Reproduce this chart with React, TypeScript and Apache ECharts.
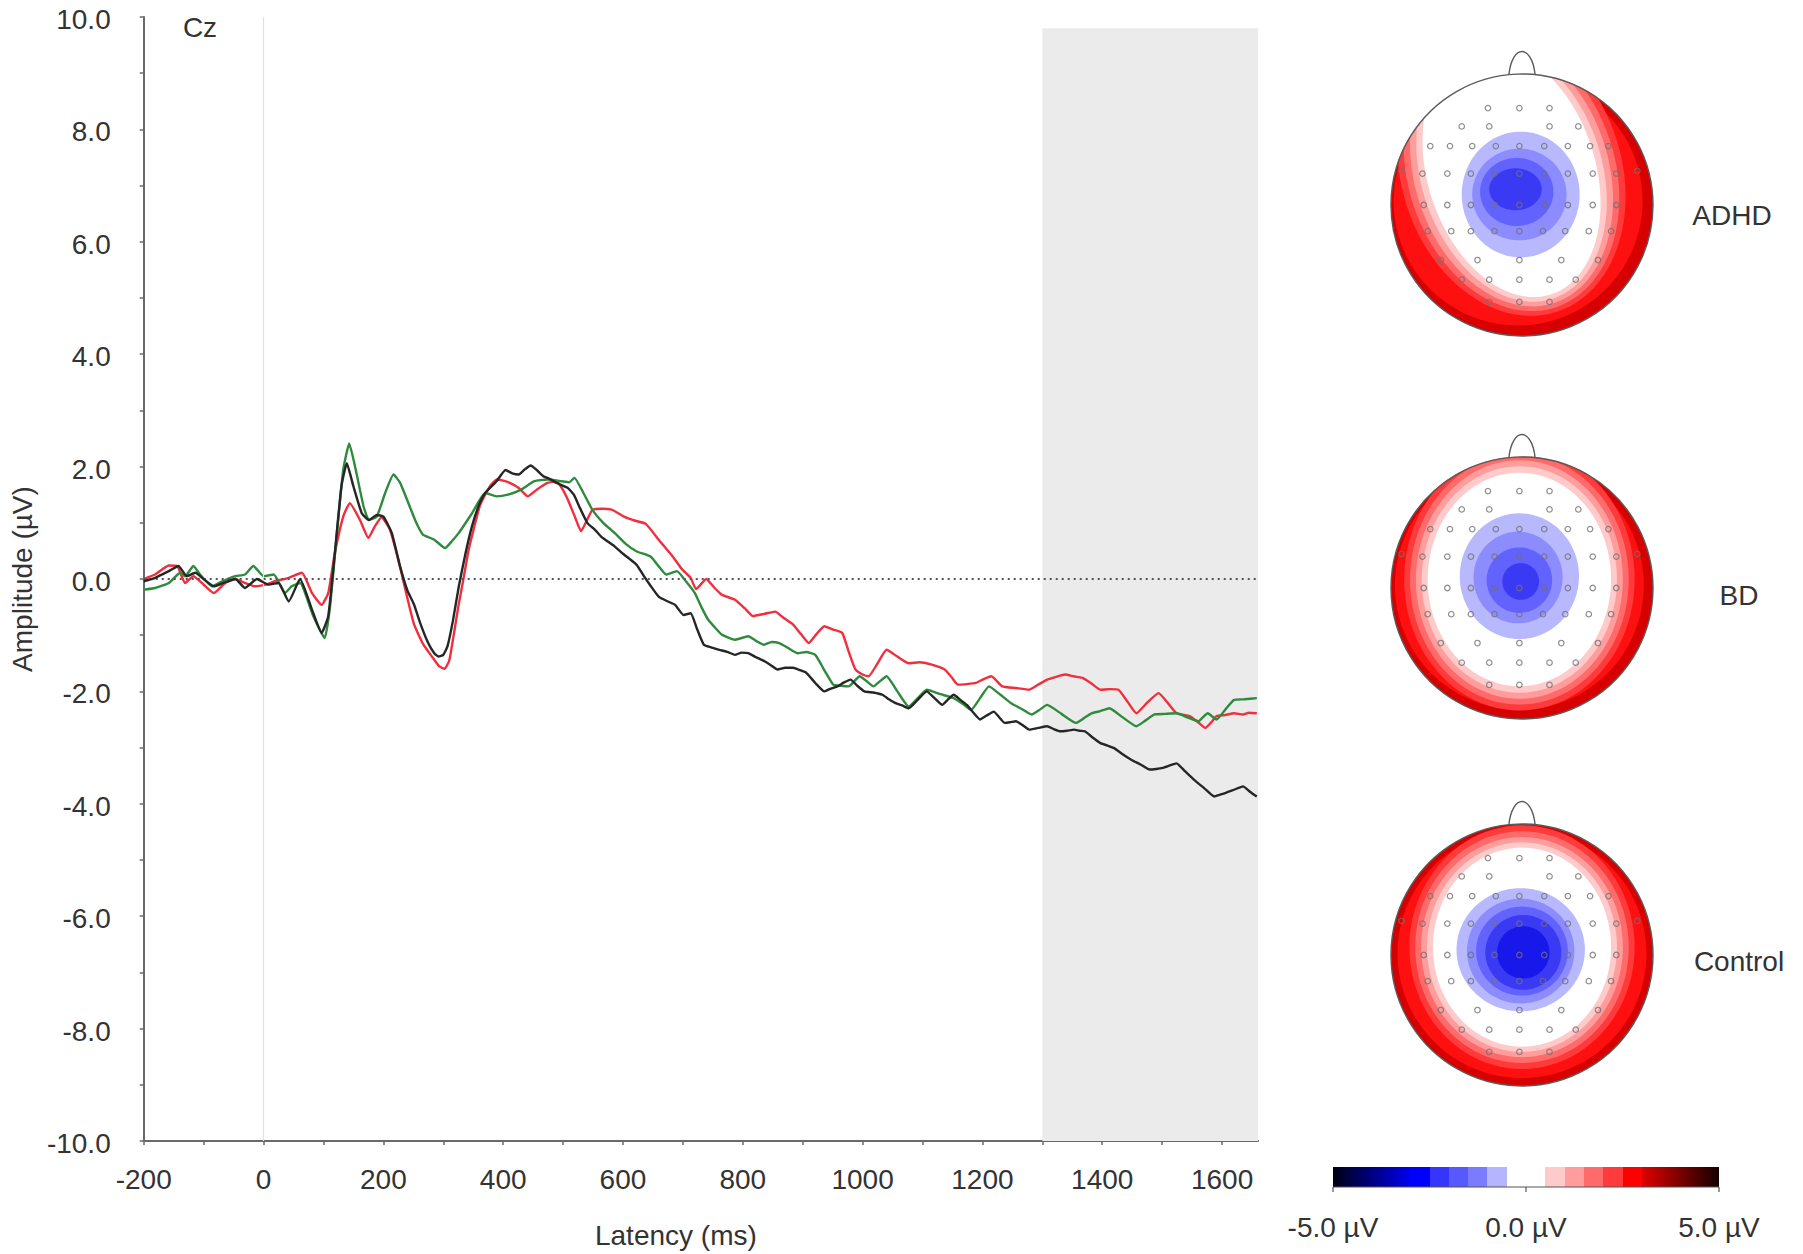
import React, { useEffect, useRef } from 'react';
import * as echarts from 'echarts';

// ---------------- data ----------------
const xLabelValues = [-200, 0, 200, 400, 600, 800, 1000, 1200, 1400, 1600];
const xTickValues = [-200, -100, 0, 100, 200, 300, 400, 500, 600, 700, 800, 900, 1000, 1100, 1200, 1300, 1400, 1500, 1600];
const yLabelValues = [-10, -8, -6, -4, -2, 0, 2, 4, 6, 8, 10];
const yTickValues = [-10, -9, -8, -7, -6, -5, -4, -3, -2, -1, 0, 1, 2, 3, 4, 5, 6, 7, 8, 9, 10];
const shadedWindow = [1300, 1660];
const shadedAmplitudeTop = 9.8;
const latencyRange = [-200, 1660];
const amplitudeRange = [-10, 10];

// [latency ms, amplitude µV]
const blackWave: [number, number][] = [
  [-200, -0.04], [-181, 0.02], [-158, 0.14], [-142, 0.23], [-128, 0.05], [-114, 0.11], [-100, 0.0], [-83, -0.13],
  [-67, -0.07], [-47, 0.0], [-31, -0.16], [-11, 0.0], [8, -0.1], [25, -0.07], [42, -0.4], [61, 0.0], [81, -0.55],
  [97, -0.96], [108, -0.66], [119, 0.46], [130, 1.65], [139, 2.06], [150, 1.65], [164, 1.17], [176, 1.05],
  [189, 1.14], [200, 1.11], [214, 0.82], [228, 0.22], [240, -0.2], [251, -0.45], [262, -0.8], [274, -1.12],
  [285, -1.32], [292, -1.38], [300, -1.35], [307, -1.2], [316, -0.75], [326, -0.13], [337, 0.45], [348, 0.94],
  [359, 1.3], [370, 1.53], [389, 1.74], [404, 1.94], [415, 1.88], [426, 1.86], [436, 1.95], [446, 2.02],
  [457, 1.93], [467, 1.83], [478, 1.78], [489, 1.71], [508, 1.62], [518, 1.5], [527, 1.29], [541, 0.99],
  [553, 0.88], [564, 0.75], [586, 0.58], [600, 0.45], [612, 0.35], [623, 0.25], [635, 0.05], [646, -0.12],
  [660, -0.32], [675, -0.4], [687, -0.46], [701, -0.64], [713, -0.61], [724, -0.9], [735, -1.17], [748, -1.22],
  [761, -1.26], [775, -1.3], [787, -1.35], [798, -1.31], [809, -1.32], [820, -1.38], [832, -1.44], [845, -1.52],
  [858, -1.61], [871, -1.58], [884, -1.58], [895, -1.62], [906, -1.67], [921, -1.85], [936, -2.0], [947, -1.95],
  [958, -1.91], [969, -1.84], [980, -1.79], [991, -1.9], [1003, -2.0], [1018, -2.02], [1033, -2.06], [1044, -2.14],
  [1055, -2.21], [1066, -2.25], [1077, -2.3], [1092, -2.15], [1107, -2.0], [1120, -2.12], [1133, -2.24],
  [1142, -2.15], [1152, -2.06], [1163, -2.15], [1174, -2.24], [1185, -2.38], [1196, -2.5], [1207, -2.43],
  [1219, -2.36], [1228, -2.46], [1237, -2.56], [1246, -2.55], [1256, -2.53], [1267, -2.6], [1278, -2.68],
  [1293, -2.65], [1308, -2.62], [1319, -2.67], [1330, -2.71], [1341, -2.7], [1353, -2.68], [1362, -2.7],
  [1371, -2.71], [1384, -2.82], [1397, -2.92], [1408, -2.96], [1420, -3.01], [1434, -3.12], [1449, -3.22],
  [1464, -3.3], [1479, -3.39], [1490, -3.38], [1501, -3.36], [1512, -3.32], [1524, -3.28], [1538, -3.42],
  [1553, -3.57], [1570, -3.72], [1587, -3.87], [1596, -3.84], [1605, -3.81], [1620, -3.75], [1635, -3.69],
  [1646, -3.78], [1658, -3.87],
];

const redWave: [number, number][] = [
  [-200, 0.0], [-181, 0.08], [-158, 0.24], [-144, 0.23], [-131, -0.07], [-117, 0.05], [-103, -0.07], [-83, -0.25],
  [-64, -0.07], [-47, 0.0], [-31, -0.07], [-14, -0.13], [3, -0.1], [19, -0.04], [42, 0.02], [64, 0.11], [81, -0.25],
  [97, -0.46], [108, -0.25], [119, 0.46], [133, 1.11], [144, 1.35], [161, 1.05], [175, 0.73], [186, 0.94],
  [197, 1.1], [211, 0.88], [225, 0.34], [237, -0.2], [251, -0.8], [266, -1.15], [281, -1.38], [293, -1.55],
  [302, -1.6], [310, -1.45], [318, -0.96], [325, -0.5], [333, -0.04], [342, 0.5], [352, 0.94], [361, 1.3],
  [370, 1.5], [380, 1.68], [389, 1.77], [400, 1.75], [411, 1.71], [426, 1.62], [441, 1.47], [456, 1.59],
  [474, 1.71], [489, 1.74], [499, 1.6], [508, 1.41], [520, 1.1], [530, 0.85], [540, 1.05], [549, 1.23],
  [565, 1.25], [582, 1.23], [600, 1.12], [616, 1.05], [638, 0.98], [661, 0.68], [683, 0.4], [698, 0.18],
  [713, 0.02], [722, -0.18], [739, 0.0], [752, -0.15], [765, -0.28], [787, -0.37], [803, -0.52], [817, -0.66],
  [836, -0.62], [854, -0.58], [869, -0.7], [884, -0.81], [897, -0.98], [910, -1.14], [923, -0.98], [936, -0.84],
  [951, -0.9], [966, -0.96], [977, -1.3], [988, -1.61], [1000, -1.7], [1010, -1.73], [1025, -1.5], [1040, -1.26],
  [1058, -1.38], [1077, -1.5], [1095, -1.48], [1114, -1.52], [1137, -1.61], [1148, -1.74], [1159, -1.88],
  [1174, -1.87], [1189, -1.85], [1202, -1.78], [1215, -1.73], [1233, -1.91], [1256, -1.94], [1278, -1.97],
  [1293, -1.88], [1308, -1.79], [1323, -1.74], [1338, -1.7], [1352, -1.73], [1367, -1.76], [1382, -1.86],
  [1397, -1.97], [1412, -1.96], [1427, -1.97], [1442, -2.18], [1457, -2.39], [1475, -2.2], [1494, -2.03],
  [1509, -2.2], [1524, -2.39], [1546, -2.44], [1560, -2.55], [1572, -2.65], [1582, -2.55], [1591, -2.44],
  [1605, -2.42], [1620, -2.39], [1635, -2.41], [1645, -2.38], [1658, -2.39],
];

const greenWave: [number, number][] = [
  [-200, -0.19], [-181, -0.16], [-158, -0.07], [-139, 0.11], [-131, 0.05], [-117, 0.23], [-106, 0.08],
  [-86, -0.13], [-69, -0.04], [-47, 0.05], [-31, 0.08], [-17, 0.23], [0, 0.05], [17, 0.08], [36, -0.25],
  [47, -0.13], [61, -0.07], [83, -0.66], [102, -1.05], [111, -0.49], [122, 0.76], [133, 1.94], [143, 2.41],
  [154, 1.94], [167, 1.29], [176, 1.05], [189, 1.11], [203, 1.53], [217, 1.86], [228, 1.71], [244, 1.29],
  [255, 1.0], [266, 0.79], [285, 0.7], [303, 0.55], [315, 0.68], [326, 0.82], [348, 1.17], [370, 1.53],
  [389, 1.47], [408, 1.5], [430, 1.59], [452, 1.74], [474, 1.77], [497, 1.74], [510, 1.72], [519, 1.8],
  [534, 1.53], [549, 1.23], [567, 1.0], [586, 0.82], [605, 0.62], [623, 0.49], [646, 0.4], [660, 0.22],
  [672, 0.08], [690, 0.14], [705, -0.04], [720, -0.25], [731, -0.5], [742, -0.72], [755, -0.88], [765, -0.99],
  [787, -1.08], [809, -1.02], [822, -1.1], [835, -1.17], [848, -1.12], [861, -1.14], [876, -1.23], [891, -1.32],
  [906, -1.3], [921, -1.35], [936, -1.62], [951, -1.88], [964, -1.9], [977, -1.91], [986, -1.82], [995, -1.73],
  [1007, -1.82], [1018, -1.91], [1029, -1.82], [1040, -1.73], [1058, -2.0], [1077, -2.27], [1092, -2.12],
  [1107, -1.97], [1130, -2.05], [1152, -2.12], [1167, -2.22], [1181, -2.33], [1196, -2.12], [1211, -1.91],
  [1230, -2.06], [1248, -2.21], [1265, -2.31], [1282, -2.41], [1295, -2.33], [1308, -2.24], [1332, -2.4],
  [1356, -2.56], [1369, -2.48], [1382, -2.39], [1397, -2.35], [1412, -2.3], [1434, -2.46], [1457, -2.62],
  [1472, -2.52], [1487, -2.41], [1505, -2.4], [1524, -2.39], [1542, -2.46], [1561, -2.53], [1568, -2.46],
  [1576, -2.39], [1591, -2.5], [1605, -2.33], [1620, -2.15], [1637, -2.14], [1658, -2.12],
];

const groupNames = ['ADHD', 'BD', 'Control'];

const topoLevels: Record<string, string> = {
  r5: '#d60000', r4: '#ff1010', r3: '#ff3a3a', r2: '#ff6a6a', r1: '#ff9d9d', r0: '#ffcaca',
  w: '#ffffff', b1: '#b8b8ff', b2: '#8c8cff', b3: '#6262ff', b4: '#3a3af5', b5: '#1818ea',
};

// [level, centre u, centre v, radius u, radius v, rotation deg] in head units (head radius = 1)
type Band = [string, number, number, number, number, number];
const adhdBands: Band[] = [
  ['r5', 0, 0, 1.0, 1.0, 0],
  ['r4', -0.03, 0.03, 0.95, 0.95, 0],
  ['r3', -0.08, 0.25, 0.84, 1.12, 18],
  ['r2', -0.08, 0.25, 0.79, 1.085, 18],
  ['r1', -0.08, 0.25, 0.74, 1.05, 18],
  ['r0', -0.08, 0.25, 0.69, 1.015, 18],
  ['w', -0.08, 0.25, 0.64, 0.98, 18],
  ['b1', -0.01, 0.08, 0.45, 0.48, 0],
  ['b2', -0.02, 0.08, 0.36, 0.35, 0],
  ['b3', -0.04, 0.1, 0.28, 0.26, 0],
  ['b4', -0.05, 0.12, 0.2, 0.16, 0],
];
const bdBands: Band[] = [
  ['r5', 0, 0, 1.0, 1.0, 0],
  ['r4', -0.02, 0.02, 0.95, 0.95, 0],
  ['r3', -0.02, 0.065, 0.88, 1.0, 0],
  ['r2', -0.02, 0.065, 0.835, 0.955, 0],
  ['r1', -0.02, 0.065, 0.79, 0.91, 0],
  ['r0', -0.02, 0.065, 0.745, 0.865, 0],
  ['w', -0.02, 0.065, 0.7, 0.815, 0],
  ['b1', -0.02, 0.09, 0.455, 0.48, 0],
  ['b2', -0.03, 0.08, 0.34, 0.35, 0],
  ['b3', -0.02, 0.06, 0.25, 0.25, 0],
  ['b4', -0.01, 0.05, 0.14, 0.14, 0],
];
const controlBands: Band[] = [
  ['r5', 0, 0, 1.0, 1.0, 0],
  ['r4', 0, 0.01, 0.95, 0.95, 0],
  ['r3', 0, 0.06, 0.86, 0.93, 0],
  ['r2', 0, 0.06, 0.815, 0.885, 0],
  ['r1', 0, 0.06, 0.77, 0.84, 0],
  ['r0', 0, 0.06, 0.725, 0.8, 0],
  ['w', 0, 0.06, 0.68, 0.76, 0],
  ['b1', -0.01, 0.04, 0.49, 0.47, 0],
  ['b2', -0.01, 0.03, 0.41, 0.4, 0],
  ['b3', 0, 0.03, 0.35, 0.34, 0],
  ['b4', 0.01, 0.02, 0.29, 0.285, 0],
  ['b5', 0.01, 0.02, 0.2, 0.2, 0],
];
const headBands = [adhdBands, bdBands, controlBands];

// electrode positions in head units
const electrodes: [number, number][] = [
  [-0.26, 0.74], [-0.02, 0.74], [0.21, 0.74],
  [-0.46, 0.6], [-0.25, 0.6], [0.21, 0.6], [0.43, 0.6],
  [-0.7, 0.45], [-0.55, 0.45], [-0.38, 0.45], [-0.2, 0.45], [-0.02, 0.45], [0.17, 0.45], [0.35, 0.45], [0.52, 0.45], [0.66, 0.45],
  [-0.92, 0.26], [-0.76, 0.24], [-0.57, 0.24], [-0.39, 0.24], [-0.21, 0.24], [-0.02, 0.24], [0.17, 0.24], [0.35, 0.24], [0.54, 0.24], [0.72, 0.24], [0.88, 0.26],
  [-0.75, 0.0], [-0.57, 0.0], [-0.39, 0.0], [-0.21, 0.0], [-0.02, 0.0], [0.17, 0.0], [0.35, 0.0], [0.54, 0.0], [0.72, 0.0],
  [-0.72, -0.2], [-0.54, -0.2], [-0.39, -0.2], [-0.21, -0.2], [-0.02, -0.2], [0.16, -0.2], [0.33, -0.2], [0.51, -0.2], [0.68, -0.2],
  [-0.62, -0.42], [-0.34, -0.42], [-0.02, -0.42], [0.3, -0.42], [0.58, -0.42],
  [-0.46, -0.57], [-0.25, -0.57], [-0.02, -0.57], [0.21, -0.57], [0.41, -0.57],
  [-0.25, -0.74], [-0.02, -0.74], [0.21, -0.74],
];

// colour bar: [from µV, to µV, colour at start, colour at end]
const colorbarSegments: [number, number, string, string][] = [
  [-5.0, -3.0, '#000014', '#0000ee'],
  [-3.0, -2.5, '#0000ff', '#0000ff'],
  [-2.5, -2.0, '#3535ff', '#3535ff'],
  [-2.0, -1.5, '#5858ff', '#5858ff'],
  [-1.5, -1.0, '#7b7bff', '#7b7bff'],
  [-1.0, -0.5, '#b4b4ff', '#b4b4ff'],
  [-0.5, 0.5, '#ffffff', '#ffffff'],
  [0.5, 1.0, '#ffcaca', '#ffcaca'],
  [1.0, 1.5, '#ff9d9d', '#ff9d9d'],
  [1.5, 2.0, '#ff6a6a', '#ff6a6a'],
  [2.0, 2.5, '#ff3a3a', '#ff3a3a'],
  [2.5, 3.0, '#ff0000', '#ff0000'],
  [3.0, 5.0, '#e00000', '#140000'],
];
const colorbarLabels: [number, string][] = [[-5, '-5.0 µV'], [0, '0.0 µV'], [5, '5.0 µV']];

// ---------------- layout ----------------
const FONT = '"Liberation Sans", Arial, Helvetica, sans-serif';
const TEXT = '#333333';
const FS = 28;
const PLOT = { left: 142, top: 17, width: 1116, height: 1124 };
const HEAD_CX = 1522;
const HEAD_R = 131;
const HEAD_CY = [205, 588, 955];
const HEAD_LABEL_POS: [number, number][] = [[1732, 215], [1739, 595], [1739, 961]];
const HEAD_SPAN = 1.2;
const CB = { x: 1333, y: 1167, width: 386, height: 20 };

function bandRender(params: any, api: any) {
  const cx = api.value(0);
  const cy = api.value(1);
  const rx = api.value(2);
  const ry = api.value(3);
  const th = (api.value(4) * Math.PI) / 180;
  const pts: number[][] = [];
  for (let k = 0; k < 96; k++) {
    const t = (2 * Math.PI * k) / 96;
    const px = rx * Math.cos(t);
    const py = ry * Math.sin(t);
    pts.push(api.coord([cx + px * Math.cos(th) - py * Math.sin(th), cy + px * Math.sin(th) + py * Math.cos(th)]));
  }
  return { type: 'polygon', shape: { points: pts }, style: { fill: api.visual('color'), stroke: null } };
}

function outlineRender(params: any, api: any) {
  const c = api.coord([0, 0]);
  const r = api.size([1, 1])[0];
  const nl = api.coord([-0.1, 0.995]);
  const nr = api.coord([0.1, 0.995]);
  const c1 = api.coord([-0.075, 1.23]);
  const c2 = api.coord([0.075, 1.23]);
  return {
    type: 'group',
    children: [
      { type: 'ring', shape: { cx: c[0], cy: c[1], r0: r + 0.6, r: r * 1.5 }, style: { fill: '#ffffff' } },
      { type: 'circle', shape: { cx: c[0], cy: c[1], r }, style: { fill: 'none', stroke: '#5a5a5a', lineWidth: 1.4 } },
      {
        type: 'bezierCurve',
        shape: { x1: nl[0], y1: nl[1], x2: nr[0], y2: nr[1], cpx1: c1[0], cpy1: c1[1], cpx2: c2[0], cpy2: c2[1] },
        style: { fill: 'none', stroke: '#5a5a5a', lineWidth: 1.4 },
      },
    ],
  };
}

function textStyle(text: string) {
  return {
    text, fontSize: FS, fontFamily: FONT, fill: TEXT,
    textAlign: 'center', textVerticalAlign: 'middle', align: 'center', verticalAlign: 'middle',
  };
}

function buildOption() {
  const grids: any[] = [{ ...PLOT }];
  const xAxes: any[] = [
    {
      type: 'value', gridIndex: 0, min: latencyRange[0], max: latencyRange[1],
      axisLine: { show: true, onZero: false, lineStyle: { color: '#6a6a6a', width: 2 } },
      axisTick: { show: true, customValues: xTickValues, length: 4, lineStyle: { color: '#6a6a6a', width: 1.5 } },
      axisLabel: {
        customValues: xLabelValues, margin: 24, fontSize: FS, color: TEXT, fontFamily: FONT,
        formatter: (v: number) => String(v),
      },
      splitLine: { show: false },
      name: 'Latency (ms)', nameLocation: 'middle', nameGap: 80,
      nameTextStyle: { fontSize: FS, color: TEXT, fontFamily: FONT, padding: [0, 50, 0, 0] },
    },
  ];
  const yAxes: any[] = [
    {
      type: 'value', gridIndex: 0, min: amplitudeRange[0], max: amplitudeRange[1],
      axisLine: { show: true, onZero: false, lineStyle: { color: '#6a6a6a', width: 2 } },
      axisTick: { show: true, customValues: yTickValues, length: 4, lineStyle: { color: '#6a6a6a', width: 1.5 } },
      axisLabel: {
        customValues: yLabelValues, margin: 33, fontSize: FS, color: TEXT, fontFamily: FONT,
        formatter: (v: number) => v.toFixed(1), verticalAlign: 'top', lineHeight: 5,
      },
      splitLine: { show: false },
      name: 'Amplitude (µV)', nameLocation: 'middle', nameGap: 95, nameRotate: 90,
      nameTextStyle: { fontSize: FS, color: TEXT, fontFamily: FONT },
    },
  ];

  const series: any[] = [
    {
      type: 'line', xAxisIndex: 0, yAxisIndex: 0, data: [[latencyRange[0], 0]], silent: true, z: 1,
      showSymbol: false, lineStyle: { width: 0 },
      markArea: {
        silent: true, itemStyle: { color: '#ebebeb' },
        data: [[{ xAxis: shadedWindow[0], yAxis: amplitudeRange[0] }, { xAxis: shadedWindow[1], yAxis: shadedAmplitudeTop }]],
      },
      markLine: {
        silent: true, symbol: ['none', 'none'], label: { show: false }, animation: false,
        data: [
          { xAxis: 0, lineStyle: { color: '#e2e2e2', width: 1.2, type: 'solid' } },
          { yAxis: 0, lineStyle: { color: '#555555', width: 2, type: [2, 4] } },
        ],
      },
    },
    { type: 'line', name: 'red', data: redWave, showSymbol: false, smooth: 0.15, z: 3, lineStyle: { color: '#f02e3e', width: 2.4 } },
    { type: 'line', name: 'green', data: greenWave, showSymbol: false, smooth: 0.15, z: 4, lineStyle: { color: '#2e8b3e', width: 2.4 } },
    { type: 'line', name: 'black', data: blackWave, showSymbol: false, smooth: 0.15, z: 5, lineStyle: { color: '#262626', width: 2.4 } },
  ];

  HEAD_CY.forEach((cy, i) => {
    const gi = i + 1;
    const half = HEAD_R * HEAD_SPAN;
    grids.push({ left: HEAD_CX - half, top: cy - half, width: half * 2, height: half * 2 });
    xAxes.push({ type: 'value', gridIndex: gi, min: -HEAD_SPAN, max: HEAD_SPAN, show: false });
    yAxes.push({ type: 'value', gridIndex: gi, min: -HEAD_SPAN, max: HEAD_SPAN, show: false });
    series.push({
      type: 'custom', xAxisIndex: gi, yAxisIndex: gi, silent: true, z: 2,
      renderItem: bandRender,
      data: headBands[i].map((b) => ({ value: [b[1], b[2], b[3], b[4], b[5]], itemStyle: { color: topoLevels[b[0]] } })),
    });
    series.push({
      type: 'custom', xAxisIndex: gi, yAxisIndex: gi, silent: true, z: 3,
      renderItem: outlineRender, data: [[0, 0]],
    });
    series.push({
      type: 'scatter', xAxisIndex: gi, yAxisIndex: gi, silent: true, z: 4,
      data: electrodes, symbol: 'circle', symbolSize: 5.5,
      itemStyle: { color: 'rgba(255,255,255,0)', borderColor: '#707070', borderWidth: 1.2 },
    });
  });

  const cbX = (v: number) => CB.x + ((v + 5) / 10) * CB.width;
  const stops: any[] = [];
  colorbarSegments.forEach(([a, b, c1, c2]) => {
    stops.push({ offset: (a + 5) / 10, color: c1 });
    stops.push({ offset: (b + 5) / 10, color: c2 });
  });

  const graphic: any[] = [
    { type: 'text', x: 200, y: 27, z: 100, style: textStyle('Cz') },
    ...groupNames.map((n, i) => ({
      type: 'text', x: HEAD_LABEL_POS[i][0], y: HEAD_LABEL_POS[i][1], z: 100, style: textStyle(n),
    })),
    {
      type: 'rect', z: 100, shape: { x: CB.x, y: CB.y, width: CB.width, height: CB.height },
      style: { fill: { type: 'linear', x: 0, y: 0, x2: 1, y2: 0, colorStops: stops } },
    },
    { type: 'line', z: 100, shape: { x1: CB.x, y1: CB.y + CB.height, x2: CB.x + CB.width, y2: CB.y + CB.height }, style: { stroke: '#555', lineWidth: 1.2 } },
    ...colorbarLabels.map(([v]) => ({
      type: 'line', z: 100, shape: { x1: cbX(v), y1: CB.y + CB.height, x2: cbX(v), y2: CB.y + CB.height + 5 }, style: { stroke: '#555', lineWidth: 1.2 },
    })),
    ...colorbarLabels.map(([v, t]) => ({ type: 'text', x: cbX(v), y: 1227, z: 100, style: textStyle(t) })),
  ];

  return {
    animation: false,
    backgroundColor: '#ffffff',
    grid: grids,
    xAxis: xAxes,
    yAxis: yAxes,
    series,
    graphic,
  };
}

export default function App() {
  const ref = useRef<HTMLDivElement>(null);
  useEffect(() => {
    if (!ref.current) return;
    const chart = echarts.init(ref.current, null, { renderer: 'svg' });
    chart.setOption(buildOption() as any);
    return () => chart.dispose();
  }, []);
  return <div ref={ref} style={{ position: 'fixed', left: 0, top: 0, width: 1803, height: 1254 }} />;
}
